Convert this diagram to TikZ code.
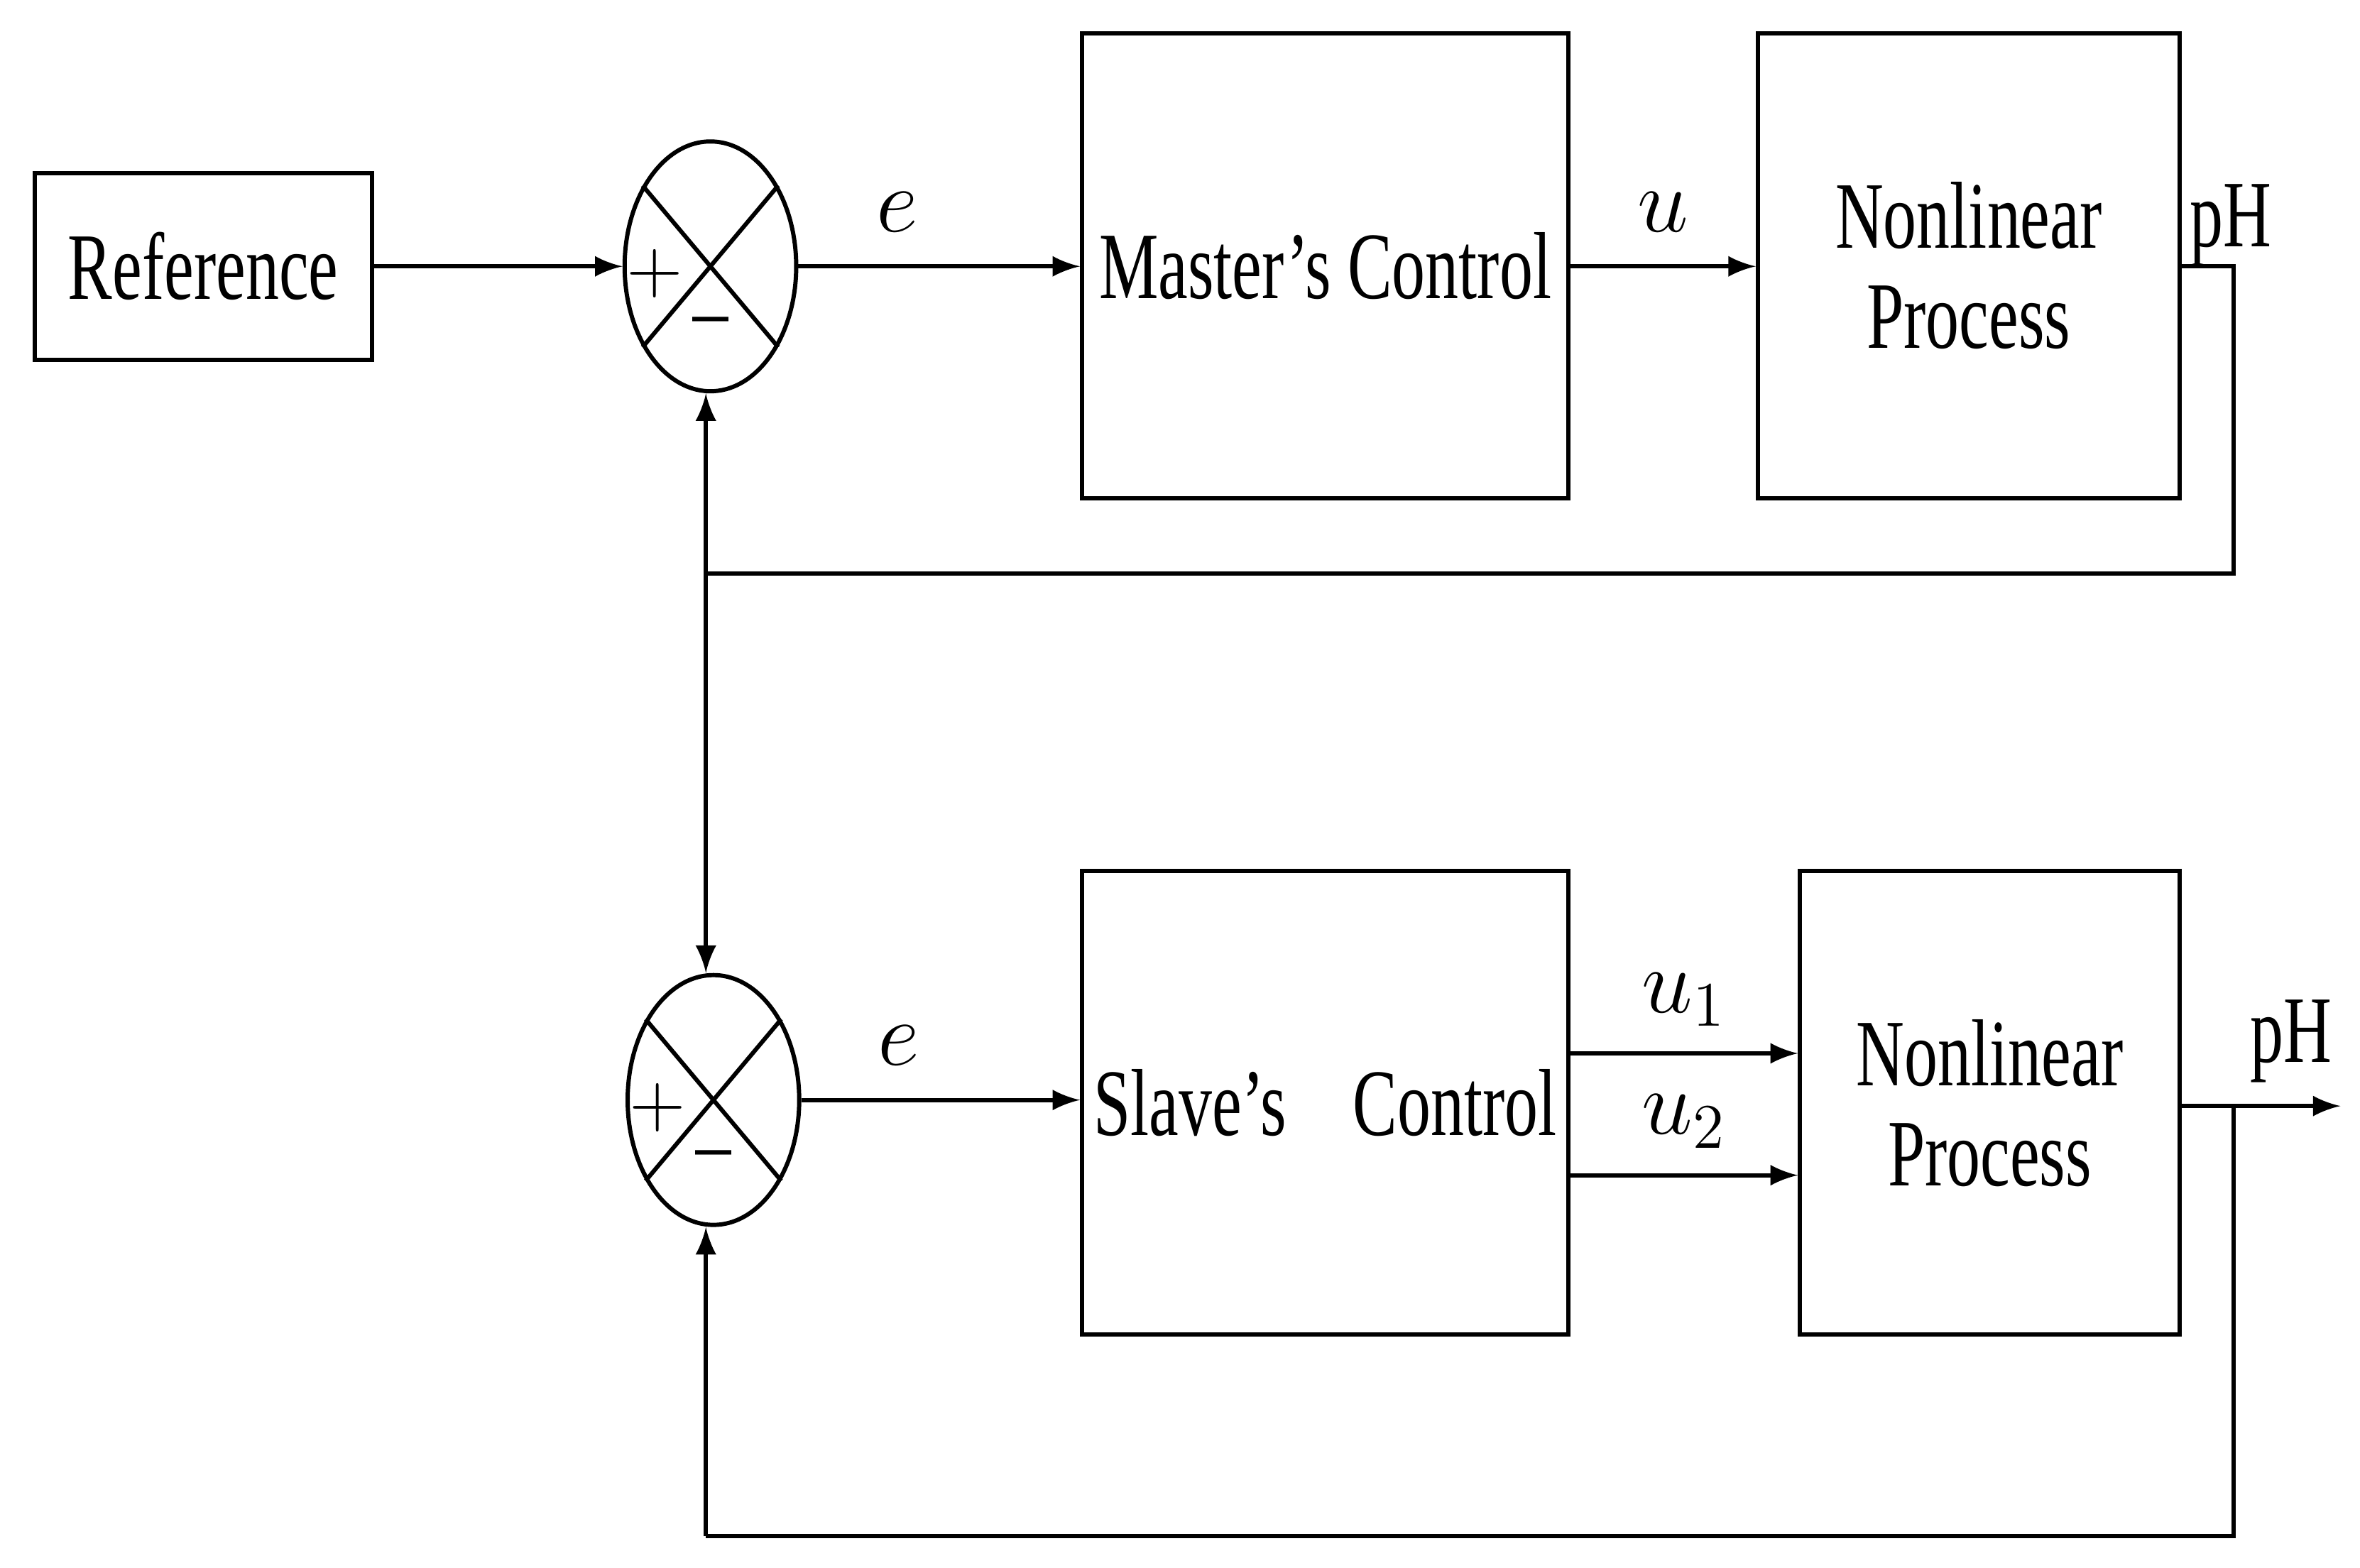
\documentclass[tikz,border=0pt]{standalone}
\usepackage{fontspec}
\setmainfont{Liberation Serif}
\usetikzlibrary{shapes.geometric}
\newcommand{\cond}[1]{\scalebox{0.7}[1]{#1}}
\tikzset{
  blk/.style={draw, thick, minimum width=#1, inner sep=0pt, font=\fontsize{18}{21}\selectfont, align=center},
  sumj/.style={draw, thick, ellipse, minimum width=1.14cm, minimum height=1.66cm, inner sep=0pt},
  sig/.style={thick, -latex},
  lbl/.style={font=\fontsize{18}{21}\selectfont},
  sgn/.style={font=\sffamily\fontsize{14}{16}\selectfont}
}
\begin{document}
\begin{tikzpicture}[x=1cm,y=-1cm]
\useasboundingbox (0,0) rectangle (15.68,10.42);

% upper loop
\node[blk=2.24cm, minimum height=1.24cm] (ref) at (1.35,1.77) {\cond{Reference}};
\node[sumj] (s1) at (4.72,1.77) {};
\draw[thick] (s1.50) -- (s1.230) (s1.130) -- (s1.310);
\node[sgn] at (4.35,1.82) {+};
\node[sgn] at (4.72,2.18) {\textendash};
\node[blk=3.23cm, minimum height=3.09cm] (mc) at (8.805,1.765) {\cond{Master’s Control}};
\node[blk=2.80cm, minimum height=3.09cm] (np1) at (13.08,1.765) {\cond{Nonlinear}\\[-2pt]\cond{Process}};
\coordinate (o1) at (14.84,1.77);
\coordinate (fb1) at (14.84,3.81);
\coordinate (j) at (4.69,3.81);

\draw[sig] (ref) -- (s1);
\draw[sig] (s1) -- node[lbl, above=0.1cm, pos=0.35] {$e$} (mc.west |- s1);
\draw[sig] (mc.east |- s1) -- node[lbl, above=0.1cm] {$u$} (np1.west |- s1);
\draw[thick] (np1.east |- o1) -- (o1) -- (fb1) -- (j);
\node[lbl] at (14.82,1.50) {\cond{pH}};

% lower loop
\node[sumj] (s2) at (4.74,7.31) {};
\draw[thick] (s2.50) -- (s2.230) (s2.130) -- (s2.310);
\node[sgn] at (4.37,7.36) {+};
\node[sgn] at (4.74,7.72) {\textendash};
\node[blk=3.23cm, minimum height=3.08cm] (sc) at (8.805,7.33) {\cond{Slave’s\quad Control}};
\node[blk=2.52cm, minimum height=3.08cm] (np2) at (13.22,7.33) {\cond{Nonlinear}\\[-2pt]\cond{Process}};
\coordinate (o2) at (14.84,7.35);
\coordinate (out) at (15.55,7.35);
\coordinate (fb2) at (14.84,10.21);
\coordinate (b2) at (4.69,10.21);

\draw[sig] (j) -- (s1.south -| j);
\draw[sig] (j) -- (s2.north -| j);
\draw[sig] (s2) -- node[lbl, above=0.1cm, pos=0.35] {$e$} (sc.west |- s2);
\draw[sig] (sc.east |- 0,7.00) -- node[lbl, above=0.05cm] {$u_1$} (np2.west |- 0,7.00);
\draw[sig] (sc.east |- 0,7.81) -- node[lbl, above=0.05cm] {$u_2$} (np2.west |- 0,7.81);
\draw[sig] (np2.east |- o2) -- (out);
\node[lbl] at (15.22,6.92) {\cond{pH}};
\draw[thick] (o2) -- (fb2) -- (b2);
\draw[sig] (b2) -- (s2.south -| b2);
\end{tikzpicture}
\end{document}
